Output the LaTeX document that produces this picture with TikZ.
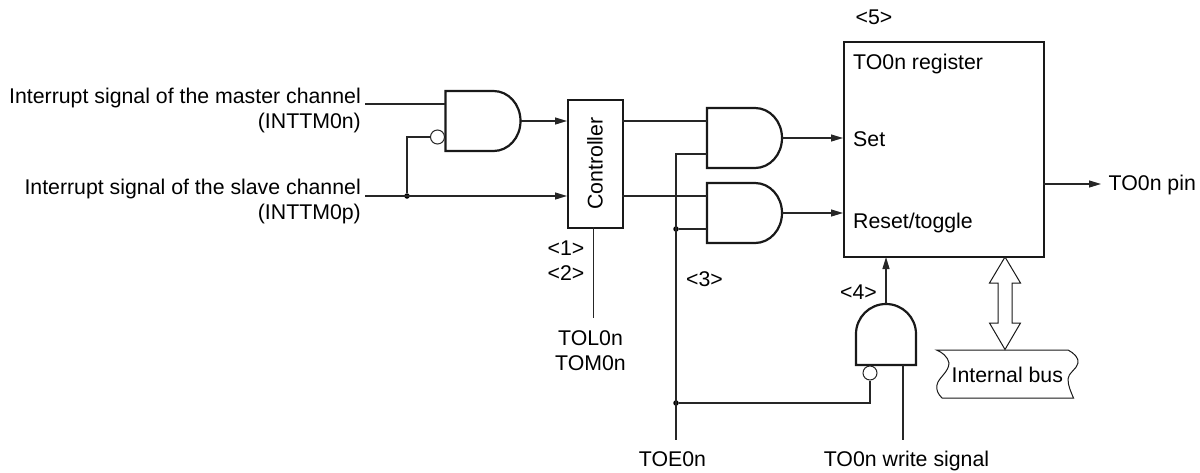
\documentclass[tikz,border=0pt]{standalone}
\usepackage{fontspec}
\setmainfont{Liberation Sans}
\usetikzlibrary{arrows.meta}
\tikzset{
  x=1pt,y=-1pt,
  wire/.style={line width=1.2pt,draw=black!85},
  sig/.style={wire,-{Stealth[inset=0pt,length=12pt,width=7pt]}},
  gateline/.style={line width=2.2pt,draw=black!90},
  blockbox/.style={draw=black!90,line width=2.2pt,rectangle,inner sep=0pt,anchor=north west},
  bubble/.style={circle,draw=black!85,line width=1pt,fill=white,inner sep=0pt,minimum size=14pt},
  jdot/.style={circle,fill=black,inner sep=0pt,minimum size=5.5pt},
  lab/.style={inner sep=0pt,font=\fontsize{21.3}{25}\selectfont},
  labr/.style={lab,anchor=base east},
  labl/.style={lab,anchor=base west},
  labc/.style={lab,anchor=base}
}
% AND gate pointing right: name, left x, top y
\newcommand{\gateR}[3]{%
  \coordinate (#1o) at (#2+75,#3+30);
  \draw[gateline,line join=miter,fill=white] (#2,#3) -- (#2+48,#3)
    .. controls (#2+63,#3) and (#2+75,#3+13.4) .. (#2+75,#3+30)
    .. controls (#2+75,#3+46.6) and (#2+63,#3+60) .. (#2+48,#3+60)
    -- (#2,#3+60) -- cycle;
}
\begin{document}
\begin{tikzpicture}
\useasboundingbox (0,0) rectangle (1200,472);
% coordinates for free ends
\coordinate (m) at (365,104);
\coordinate (s) at (365,196);
\coordinate (ctrlb) at (593.3,227);
\coordinate (tolEnd) at (593.3,318);
\coordinate (toeEnd) at (676,440);
\coordinate (wrEnd) at (903,440);
\coordinate (pinEnd) at (1101,184);
% gates
\gateR{ga}{445.5}{91}
\gateR{gb}{707}{108}
\gateR{gc}{707}{183}
\draw[gateline,line join=miter,fill=white] (856,365) -- (856,334)
  .. controls (856,317.4) and (869.4,304) .. (886,304)
  .. controls (902.6,304) and (916,317.4) .. (916,334)
  -- (916,365) -- cycle;
\coordinate (gdo) at (886,304);
% blocks
\node[blockbox,minimum width=55pt,minimum height=128pt] (ctrl) at (567,99) {};
\node[lab,rotate=90,anchor=base] (ctrltxt) at (602.5,163.5) {Controller};
\node[blockbox,minimum width=200pt,minimum height=215pt] (reg) at (843,41) {};
\node[labl] (t1) at (853,69) {TO0n register};
\node[labl] (t2) at (853,146) {Set};
\node[labl] (t3) at (853,228) {Reset/toggle};
% bubbles
\node[bubble] (ba) at (437.5,137) {};
\node[bubble] (bd) at (870,373) {};
% junctions
\node[jdot] (j1) at (407,196) {};
\node[jdot] (j2) at (676,229) {};
\node[jdot] (j3) at (676,403) {};
% wires
\draw[wire] (m) -- (445,104);
\draw[wire] (j1) |- (ba.west);
\draw[sig] (s) -- (567,196);
\draw[sig] (gao) -- (567,121);
\draw[wire] (622,121) -- (707,121);
\draw[wire] (622,196) -- (707,196);
\draw[wire] (ctrlb) -- (tolEnd);
\draw[wire] (707,154) -| (toeEnd);
\draw[wire] (j2) -- (707,229);
\draw[sig] (gbo) -- (843,138);
\draw[sig] (gco) -- (843,213);
\draw[sig] (gdo) -- (886,257);
\draw[wire] (j3) -| (bd.south);
\draw[wire] (903,365) -- (wrEnd);
\draw[sig] (1043,184) -- (pinEnd);
% bus arrow
\coordinate (bt) at (1005,257);
\coordinate (bb) at (1005,349.5);
\draw[line width=1pt,draw=black!90,fill=white,line join=miter] (bt) -- (1020.5,283) -- (1012,283) -- (1012,323) -- (1020.5,323) -- (bb) -- (989.5,323) -- (998,323) -- (998,283) -- (989.5,283) -- cycle;
% internal bus
\draw[line width=1pt,draw=black!90] (936.5,350) -- (1068,350)
  .. controls (1074,353) and (1079,358) .. (1078,363)
  .. controls (1077,369) and (1068,373) .. (1068,379)
  .. controls (1068,386) and (1071,392) .. (1073.5,398)
  -- (942,398)
  .. controls (938,394) and (936,390) .. (937,385)
  .. controls (938,378) and (949,372) .. (949,363)
  .. controls (948,357) and (942,352) .. (936.5,350) -- cycle;
\node[labl] (ib) at (951.5,382) {Internal bus};
% labels
\node[labr] (l1) at (361,103) {Interrupt signal of the master channel};
\node[labr] (l2) at (361,128.5) {(INTTM0n)};
\node[labr] (l3) at (361,194) {Interrupt signal of the slave channel};
\node[labr] (l4) at (361,219.5) {(INTTM0p)};
\node[labc] (n1) at (566,255.5) {<1>};
\node[labc] (n2) at (566,280) {<2>};
\node[labc] (n3) at (704.5,286) {<3>};
\node[labc] (n4) at (858.5,299) {<4>};
\node[labc] (n5) at (874,24) {<5>};
\node[labc] (tol) at (590.5,345.7) {TOL0n};
\node[labc] (tom) at (590.5,370.7) {TOM0n};
\node[labc] (toe) at (672.5,466) {TOE0n};
\node[labc] (wr) at (906.5,466) {TO0n write signal};
\node[labl] (pin) at (1108.5,190.7) {TO0n pin};
\end{tikzpicture}
\end{document}
